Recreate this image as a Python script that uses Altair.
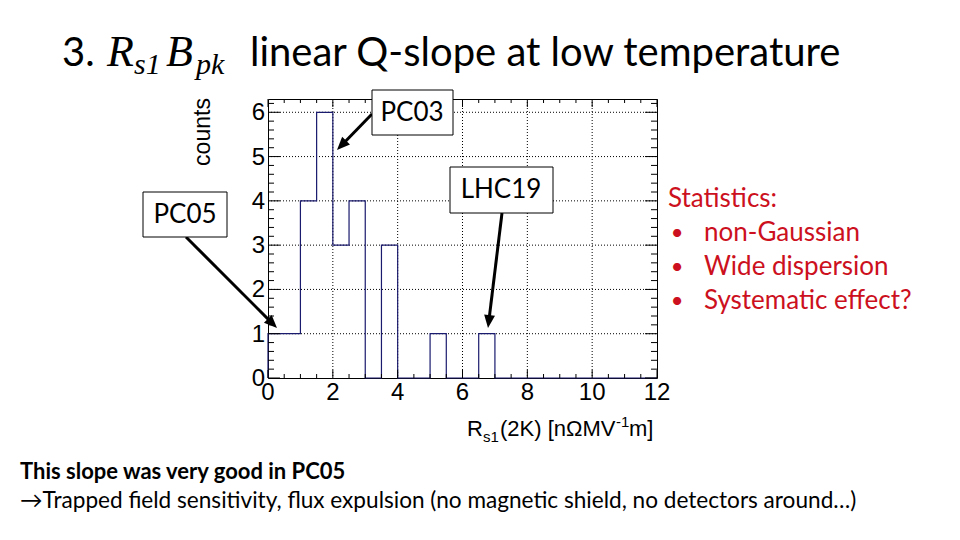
import math
import altair as alt
import pandas as pd

# ---------------- data ----------------
bin_left = [0.0, 0.5, 1.0, 1.5, 2.0, 2.5, 3.0, 3.5, 4.0, 4.5, 5.0, 5.5, 6.0, 6.5]
bin_counts = [1, 1, 4, 6, 3, 4, 0, 3, 0, 0, 1, 0, 0, 1]
bin_width = 0.5
x_domain = [0, 12]
y_domain = [0, 6.3]
x_tick_labels = [0, 2, 4, 6, 8, 10, 12]
y_tick_labels = [0, 1, 2, 3, 4, 5, 6]
x_minor_ticks = [0.5, 1, 1.5, 2.5, 3, 3.5, 4.5, 5, 5.5, 6.5, 7, 7.5, 8.5, 9, 9.5, 10.5, 11, 11.5]
y_minor_ticks = [round(0.2 * i, 1) for i in range(32) if i % 5 != 0]

title_num = "3."
title_rest = "linear Q-slope at low temperature"
stats_head = "Statistics:"
stats_items = ["non-Gaussian", "Wide dispersion", "Systematic effect?"]
bottom_bold = "This slope was very good in PC05"
bottom_line = "\u2192Trapped field sensitivity, flux expulsion (no magnetic shield, no detectors around\u2026)"
labels_boxes = ["PC05", "PC03", "LHC19"]

# ---------------- layout ----------------
OX, OY = 268, 99
W, H = 389, 279
SANS = "Liberation Sans"
CAL = "Lato"
RED = "#cc1020"
HIST = "#1a1a6e"

xscale = alt.Scale(domain=x_domain, nice=False, zero=False)
yscale = alt.Scale(domain=y_domain, nice=False, zero=False)
one = pd.DataFrame({"a": [0]})

layers = []

# dotted grid
gx = pd.DataFrame({"t": [v for v in x_tick_labels if 0 < v < x_domain[1]]})
gy = pd.DataFrame({"t": [v for v in y_tick_labels if v > 0]})
layers.append(alt.Chart(gx).mark_rule(color="black", strokeWidth=1, strokeDash=[1, 2]).encode(
    x=alt.X("t:Q", scale=xscale, axis=None), y=alt.value(0), y2=alt.value(H)))
layers.append(alt.Chart(gy).mark_rule(color="black", strokeWidth=1, strokeDash=[1, 2]).encode(
    y=alt.Y("t:Q", scale=yscale, axis=None), x=alt.value(0), x2=alt.value(W)))

# histogram outline (step)
xs = [0.0] + bin_left + [bin_left[-1] + bin_width, x_domain[1]]
ys = [0] + bin_counts + [0, 0]
hist_df = pd.DataFrame({"x": xs, "y": ys, "i": list(range(len(xs)))})
hist = alt.Chart(hist_df).mark_line(interpolate="step-after", color=HIST, strokeWidth=1.2, clip=False).encode(
    x=alt.X("x:Q", scale=xscale, axis=None),
    y=alt.Y("y:Q", scale=yscale, axis=None),
    order="i:Q",
)
layers.append(hist)

# tick labels
lx = pd.DataFrame({"t": x_tick_labels})
ly = pd.DataFrame({"t": y_tick_labels})
layers.append(alt.Chart(lx).mark_text(font=SANS, fontSize=24, baseline="top", align="center", color="black").encode(
    x=alt.X("t:Q", scale=xscale, axis=None), y=alt.value(H + 3), text=alt.Text("t:Q", format="d")))
layers.append(alt.Chart(ly).mark_text(font=SANS, fontSize=24, baseline="middle", align="right", color="black", dy=1).encode(
    y=alt.Y("t:Q", scale=yscale, axis=None), x=alt.value(-3), text=alt.Text("t:Q", format="d")))

# ticks (ROOT style, inside the frame)
def xticks(vals, length):
    d = pd.DataFrame({"t": vals})
    b = alt.Chart(d).mark_rule(color="black", strokeWidth=1).encode(
        x=alt.X("t:Q", scale=xscale, axis=None), y=alt.value(H), y2=alt.value(H - length))
    t = alt.Chart(d).mark_rule(color="black", strokeWidth=1).encode(
        x=alt.X("t:Q", scale=xscale, axis=None), y=alt.value(0), y2=alt.value(length))
    return [b, t]

def yticks(vals, length):
    d = pd.DataFrame({"t": vals})
    l = alt.Chart(d).mark_rule(color="black", strokeWidth=1).encode(
        y=alt.Y("t:Q", scale=yscale, axis=None), x=alt.value(0), x2=alt.value(length))
    r = alt.Chart(d).mark_rule(color="black", strokeWidth=1).encode(
        y=alt.Y("t:Q", scale=yscale, axis=None), x=alt.value(W), x2=alt.value(W - length))
    return [l, r]

layers += xticks(x_tick_labels, 8) + xticks(x_minor_ticks, 4)
layers += yticks(y_tick_labels, 12) + yticks(y_minor_ticks, 6)


def text(t, X, Y, size, font=CAL, color="black", align="left", baseline="alphabetic",
         weight="normal", style="normal", angle=0):
    kw = dict(text=t, font=font, fontSize=size, color=color, align=align, baseline=baseline,
              fontWeight=weight, fontStyle=style)
    if angle:
        kw["angle"] = angle
    return alt.Chart(one).mark_text(**kw).encode(x=alt.value(X - OX), y=alt.value(Y - OY))


def box(x1, y1, x2, y2):
    return alt.Chart(one).mark_rect(fill="white", stroke="black", strokeWidth=1).encode(
        x=alt.value(x1 - OX), x2=alt.value(x2 - OX), y=alt.value(y1 - OY), y2=alt.value(y2 - OY))


def arrow(x1, y1, x2, y2, L=13):
    dx, dy = x2 - x1, y2 - y1
    n = math.hypot(dx, dy)
    ux, uy = dx / n, dy / n
    ex, ey = x2 - ux * L * 0.7, y2 - uy * L * 0.7
    ang = math.degrees(math.atan2(dx, -dy)) % 360
    line = alt.Chart(one).mark_rule(color="black", strokeWidth=3).encode(
        x=alt.value(x1 - OX), y=alt.value(y1 - OY), x2=alt.value(ex - OX), y2=alt.value(ey - OY))
    head = alt.Chart(one).mark_point(shape="M0,0 L-0.42,1 L0.42,1 Z", filled=True, color="black",
                                     opacity=1, size=(2 * L) ** 2, angle=ang).encode(
        x=alt.value(x2 - OX), y=alt.value(y2 - OY))
    return [line, head]

# title
layers.append(text(title_num, 62, 66, 40))
layers.append(text("R", 107, 66, 44, font="Liberation Serif", style="italic"))
layers.append(text("s1", 134, 74, 30, font="Liberation Serif", style="italic"))
layers.append(text("B", 166, 66, 44, font="Liberation Serif", style="italic"))
layers.append(text("pk", 196, 74, 30, font="Liberation Serif", style="italic"))
layers.append(text(title_rest, 250, 66, 40))

# axis titles
layers.append(text("counts", 210, 132, 23, font=SANS, align="center", baseline="alphabetic", angle=270))
layers.append(text("R", 467, 436, 22, font=SANS))
layers.append(text("s1", 483, 442, 15, font=SANS))
layers.append(text("(2K) [n\u03a9MV", 500, 436, 22, font=SANS))
layers.append(text("-1", 616, 427, 15, font=SANS))
layers.append(text("m]", 629, 436, 22, font=SANS))

# arrows + boxes
layers += arrow(186, 237, 277, 328)
layers += arrow(372, 114, 337, 150)
layers += arrow(502, 213, 488, 328)
layers.append(box(143, 192, 227, 237))
layers.append(text(labels_boxes[0], 185, 215, 26, baseline="middle", align="center"))
layers.append(box(372, 90, 453, 135))
layers.append(text(labels_boxes[1], 412, 113, 26, baseline="middle", align="center"))
layers.append(box(450, 167, 553, 213))
layers.append(text(labels_boxes[2], 501, 190, 26, baseline="middle", align="center"))

# red statistics text
layers.append(text(stats_head, 668, 199, 26, color=RED, baseline="middle"))
for i, item in enumerate(stats_items):
    yy = 233 + 34 * i
    layers.append(text("\u2022", 677, yy, 22, color=RED, baseline="middle", align="center"))
    layers.append(text(item, 704, yy, 26, color=RED, baseline="middle"))

# bottom text
layers.append(text(bottom_bold, 20, 472, 22, weight="bold", baseline="middle"))
layers.append(text(bottom_line, 20, 501, 22.6, baseline="middle"))

chart = alt.layer(*layers).properties(
    width=W, height=H,
    padding={"left": OX, "top": OY, "right": 960 - OX - W, "bottom": 540 - OY - H},
    autosize=alt.AutoSizeParams(type="none"),
    background="white",
).configure_view(stroke="black", strokeWidth=1)

chart.save("out.html", embed_options={"renderer": "svg", "actions": False})
